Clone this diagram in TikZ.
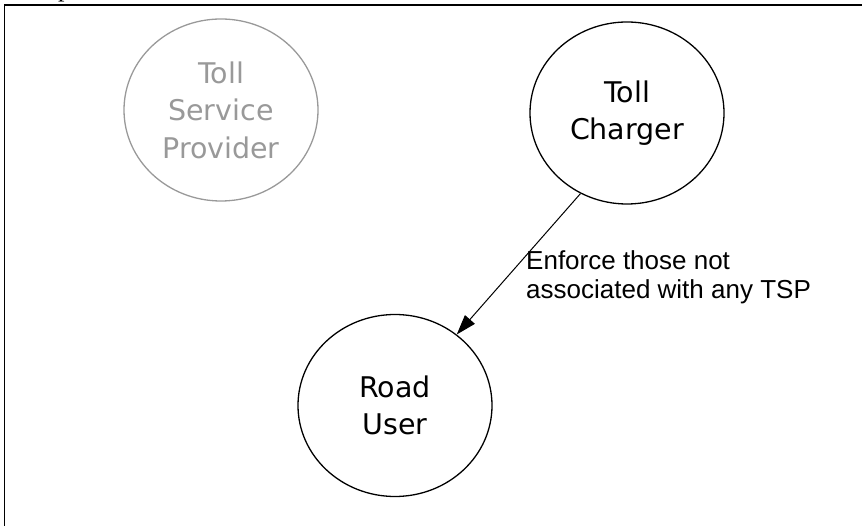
\documentclass[tikz,border=0pt]{standalone}
\usepackage{fontspec}
\setmainfont{Liberation Sans}
\newfontfamily\actorfont{DejaVu Sans}
\newfontfamily\seriffont{Liberation Serif}
\usetikzlibrary{shapes.geometric,arrows.meta}
\begin{document}
\begin{tikzpicture}[x=1pt,y=-1pt,
  actor/.style={ellipse, draw, line width=1.3pt, minimum width=194pt,
    minimum height=182pt, inner sep=0pt, align=center,
    font=\actorfont\fontsize{28.5pt}{37.5pt}\selectfont},
  faded/.style={draw=black!40, text=black!40},
  flow/.style={line width=1pt, -{Triangle[length=20pt,width=13pt]}},
  flowlabel/.style={anchor=north west, inner sep=0pt, align=left,
    font=\fontsize{26pt}{29pt}\selectfont}]
\useasboundingbox (0,0) rectangle (862,526);

% page frame, open to the right and bottom
\draw[line width=1.8pt] (4.5,540) -- (4.5,5) -- (880,5);
% tail of a heading running off the top edge
\node[font=\seriffont\fontsize{26pt}{30pt}\selectfont, anchor=base west,
  inner sep=0pt] (heading) at (58,-3) {p};

% actors
\node[actor, faded] (tsp) at (221,110) {Toll\\Service\\Provider};
\node[actor] (tc) at (627,113) {Toll\\Charger};
\node[actor] (ru) at (395,405.5) {Road\\User};

% enforcement flow
\draw[flow] (tc.240.6) -- (ru.49);
\node[flowlabel] (enforce) at (526,250) {Enforce those not\\associated with any TSP};
\end{tikzpicture}
\end{document}
